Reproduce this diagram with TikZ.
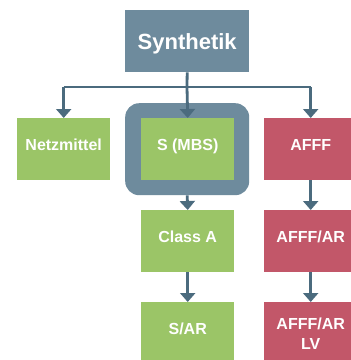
\documentclass[tikz,border=0pt]{standalone}
\usepackage{fontspec}
\setmainfont{Liberation Sans}
\usetikzlibrary{arrows.meta}
\definecolor{slate}{HTML}{6E8B9D}
\definecolor{linecol}{HTML}{4B6B7E}
\definecolor{leaf}{HTML}{9BC567}
\definecolor{rose}{HTML}{C25769}
\tikzset{
  box/.style={minimum width=93pt, minimum height=62pt, inner sep=0pt,
    text=white, font=\bfseries\fontsize{16}{20}\selectfont, align=center,
    anchor=north west, text height=12pt, text depth=10pt},
  twolines/.style={text height=32pt, text depth=-10pt},
  greenbox/.style={box, fill=leaf},
  redbox/.style={box, fill=rose},
  link/.style={draw=linecol, line width=2.8pt, -{Triangle[length=9pt,width=15pt]}},
  trunk/.style={draw=linecol, line width=2.8pt}
}
\begin{document}
\begin{tikzpicture}[x=1pt,y=-1pt]
\useasboundingbox (0,0) rectangle (351,360);
\clip (0,0) rectangle (351,360);
\fill[white] (0,0) rectangle (351,360);
% highlight frame around the selected class
\node[fill=slate, rounded corners=14pt, minimum width=124pt, minimum height=92pt,
  inner sep=0pt, anchor=north west] (hl) at (125,103) {};
% nodes
\node[box, fill=slate, minimum width=124pt, minimum height=62pt,
  text height=16pt, text depth=0pt,
  font=\bfseries\fontsize{22}{24}\selectfont] (syn) at (125,10) {Synthetik};
\node[greenbox] (netz) at (17,118) {Netzmittel};
\node[greenbox] (mbs) at (141,118) {S (MBS)};
\node[redbox] (afff) at (264,118) {AFFF};
\node[greenbox] (classa) at (141,210) {Class A};
\node[redbox] (afffar) at (264,210) {AFFF/AR};
\node[greenbox] (sar) at (141,302) {S/AR};
\node[redbox, twolines] (afffarlv) at (264,302) {AFFF/AR\\LV};
% connectors
\coordinate (bus) at (187,87);
\draw[trunk] (syn.south) -- (bus);
\draw[trunk] (netz.north |- bus) -- (afff.north |- bus);
\draw[link] (netz.north |- bus) -- (netz.north);
\draw[link] (bus) -- (mbs.north);
\draw[link] (afff.north |- bus) -- (afff.north);
\draw[link] (hl.south) -- (classa.north);
\draw[link] (afff.south) -- (afffar.north);
\draw[link] (classa.south) -- (sar.north);
\draw[link] (afffar.south) -- (afffarlv.north);
\end{tikzpicture}
\end{document}
